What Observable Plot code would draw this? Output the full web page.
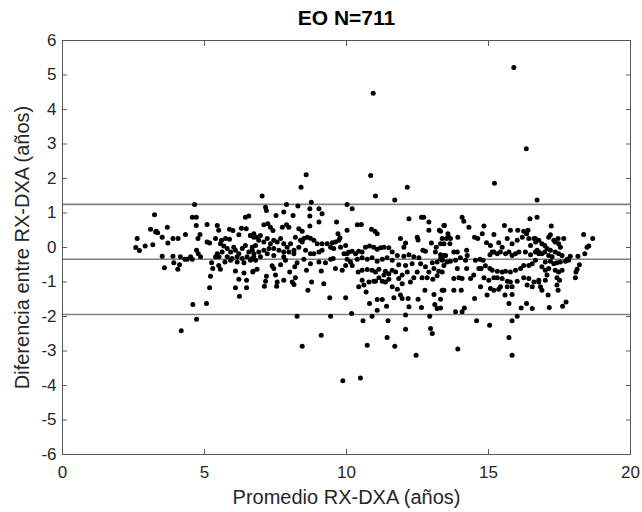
<!DOCTYPE html>
<html><head><meta charset="utf-8">
<script src="https://cdn.jsdelivr.net/npm/d3@7"></script>
<script src="https://cdn.jsdelivr.net/npm/@observablehq/plot@0.6"></script>
<style>body{margin:0;background:#fff}</style>
</head><body><div id="chart"></div>
<script>
const titulo = "EO N=711";
const etiquetaX = "Promedio RX-DXA (años)";
const etiquetaY = "Diferencia entre RX-DXA (años)";
const ticksX = [0, 5, 10, 15, 20];
const ticksY = [-6, -5, -4, -3, -2, -1, 0, 1, 2, 3, 4, 5, 6];
const media = -0.34;
const limSup = 1.25;
const limInf = -1.94;
// [promedio, diferencia]
const puntos = [
[3.24,0.95],[3.10,0.53],[3.28,0.45],[2.63,0.26],[2.58,0.00],[2.71,-0.09],[2.91,0.04],[3.18,0.08],
[4.65,1.25],[4.57,0.88],[4.71,0.88],[4.71,0.64],[5.09,0.67],[3.69,0.59],[3.30,0.47],[3.35,0.43],[3.51,0.30],[3.89,0.26],[4.07,0.26],[3.71,0.13],[4.33,0.38],[4.84,0.38],[4.77,0.26],[5.09,0.16],[5.18,0.13],[5.45,0.64],[5.50,0.50],
[5.39,0.26],[5.60,0.21],[5.74,0.26],[5.88,0.53],[6.00,0.49],[5.88,0.24],[6.21,0.37],[6.30,0.56],[6.44,0.88],[6.56,0.91],[6.47,0.54],[6.62,0.35],[6.74,0.30],
[5.56,0.11],[5.68,0.04],[5.80,-0.03],[5.92,-0.13],[6.03,0.01],[6.09,-0.08],[6.21,-0.18],[6.33,-0.03],[6.44,0.06],[6.56,-0.13],[6.68,0.01],[6.74,-0.18],[5.62,-0.13],[5.51,-0.27],[5.80,-0.27],[5.97,-0.32],[6.15,-0.27],[6.33,-0.32],[6.50,-0.27],[6.68,-0.32],[5.39,-0.27],[5.45,-0.18],
[4.78,-0.18],[4.86,-0.27],[4.72,-0.08],[4.51,-0.27],[4.39,-0.34],[4.31,-0.34],[4.57,-0.34],[3.51,-0.25],[3.89,-0.25],[4.15,-0.27],[3.92,-0.44],[4.12,-0.50],[4.06,-0.63],[3.59,-0.59],[5.25,-0.44],[5.29,-0.61],[5.50,-0.52],[5.56,-0.63],[5.72,-0.42],[5.92,-0.37],[6.15,-0.42],[6.39,-0.44],[6.09,-0.68],[6.39,-0.74],[6.70,-0.71],[5.21,-0.83],[6.21,-0.92],[6.48,-0.95],[5.18,-1.17],[6.09,-1.17],[6.48,-1.17],[6.23,-1.41],[4.59,-1.65],[5.07,-1.62],[4.72,-2.08],[4.18,-2.41],
[8.58,2.11],[8.40,1.75],[7.03,1.49],[7.15,1.17],[7.18,1.07],[7.89,1.25],[8.29,1.20],[8.76,1.31],[8.71,1.12],[8.71,0.91],[9.03,1.12],[9.14,0.98],[7.52,0.93],[7.79,1.03],[8.12,0.93],[9.03,0.74],[9.65,0.74],[8.71,0.62],[10.02,1.25],
[7.09,0.66],[7.23,0.69],[7.32,0.59],[7.41,0.49],[7.74,0.59],[7.89,0.66],[7.97,0.59],[8.32,0.54],[8.44,0.47],[9.70,0.40],[9.77,0.28],[10.02,0.50],
[6.62,0.35],[6.74,0.40],[6.85,0.30],[6.91,0.21],[6.97,0.35],[7.09,0.16],[7.21,0.26],[7.32,0.11],[7.44,0.21],[7.56,0.16],[7.68,0.26],[7.79,0.11],[7.91,0.01],[8.03,0.11],[6.80,0.06],[6.68,-0.08],[6.91,-0.13],[7.09,-0.08],[7.27,-0.03],[7.44,-0.03],[7.62,-0.08],[7.79,-0.13],[7.97,-0.13],[8.15,-0.08],[6.74,-0.27],[6.97,-0.27],[7.21,-0.18],[7.44,-0.23],[6.62,-0.37],[6.80,-0.37],
[8.20,0.30],[8.38,0.21],[8.50,0.26],[8.62,0.30],[8.73,0.27],[8.85,0.21],[8.97,0.11],[9.14,0.11],[9.32,0.11],[9.50,0.14],[9.61,0.16],[9.73,0.21],[8.15,-0.18],[8.32,0.01],[8.44,0.16],[8.56,-0.08],[8.73,-0.18],[8.85,-0.18],[9.03,-0.13],[9.14,-0.08],[9.44,0.01],[9.55,-0.03],[9.79,0.01],[9.97,0.06],[10.02,-0.18],[9.91,-0.18],[9.44,-0.34],
[7.79,-0.27],[7.85,-0.37],[8.26,-0.44],[8.50,-0.34],[8.73,-0.47],[9.03,-0.42],[9.26,-0.44],[9.53,-0.32],[9.61,-0.61],[9.85,-0.66],[6.71,-0.69],[6.85,-0.63],[7.38,-0.53],[7.44,-0.61],[7.68,-0.50],[8.00,-0.71],[8.18,-0.56],[8.59,-0.66],[9.11,-0.68],[7.18,-0.83],[7.15,-0.98],[7.50,-0.80],[7.56,-1.00],[7.54,-1.12],[7.79,-0.95],[8.09,-1.00],[8.15,-1.07],[8.20,-0.88],[7.11,-1.12],[8.77,-1.00],[9.20,-1.05],[8.64,-1.24],[9.41,-1.46],
[8.26,-1.99],[9.44,-1.99],[9.11,-2.54],[8.44,-2.86],
[10.85,2.09],[12.14,1.75],[11.02,1.49],[11.70,1.38],[10.20,1.12],[12.20,0.83],[12.64,0.88],[12.72,0.88],[12.90,0.74],[10.38,0.66],[10.52,0.67],[10.88,0.53],[11.00,0.47],[11.08,0.40],
[11.90,0.26],[12.08,0.13],[12.02,0.01],[12.49,0.30],[12.52,0.22],[12.90,0.50],[13.27,0.50],[13.43,0.64],[12.99,0.13],[13.16,0.01],[13.31,0.11],[13.37,0.26],[12.69,-0.08],[12.78,-0.11],
[10.08,-0.13],[10.20,-0.11],[10.32,-0.18],[10.43,-0.11],[10.55,-0.13],[10.67,0.01],[10.81,0.04],[10.96,0.01],[11.08,-0.05],[11.20,-0.01],[11.32,0.01],[11.49,-0.01],[11.61,-0.13],[10.02,-0.34],[10.14,-0.42],[10.38,-0.34],[10.55,-0.30],[10.73,-0.34],[10.90,-0.30],[11.08,-0.40],[11.26,-0.34],[11.43,-0.30],[11.61,-0.37],[11.79,-0.23],[12.02,-0.25],[12.20,-0.21],[12.37,-0.27],[12.55,-0.30],
[13.13,-0.13],[13.31,-0.32],[13.43,-0.23],[13.02,-0.44],[13.19,-0.42],[13.37,-0.37],[13.08,-0.61],[13.25,-0.69],[12.90,-0.71],[13.19,-0.82],[13.37,-0.71],[13.04,-0.92],
[9.97,-0.52],[10.20,-0.52],[10.41,-0.71],[10.55,-0.66],[10.73,-0.64],[10.90,-0.66],[11.02,-0.71],[11.14,-0.63],[11.37,-0.69],[11.61,-0.66],[11.84,-0.50],[12.08,-0.52],[12.31,-0.47],[12.61,-0.47],[12.78,-0.56],[12.49,-0.71],[12.66,-0.88],[12.37,-0.88],[12.14,-0.71],[11.96,-0.80],[11.73,-0.71],[11.49,-0.76],[11.32,-0.80],[11.14,-0.88],[10.96,-0.98],[10.79,-1.00],[10.55,-0.95],[10.43,-1.14],[10.61,-1.09],[10.69,-1.29],[11.02,-0.98],[11.26,-0.98],[11.37,-1.00],[11.49,-0.92],[11.84,-0.90],[11.61,-1.14],[11.79,-1.21],[11.96,-1.05],[12.25,-1.00],[12.84,-0.88],[12.76,-1.24],[13.37,-1.24],[13.08,-1.36],
[9.97,-1.46],[11.08,-1.51],[11.26,-1.51],[11.90,-1.38],[11.96,-1.48],[12.17,-1.48],[11.67,-1.46],[12.52,-1.50],[10.81,-1.62],[11.41,-1.70],[12.20,-1.72],[12.64,-1.74],[13.11,-1.65],[13.19,-1.77],[10.18,-1.91],[10.58,-2.12],[10.90,-1.99],[11.08,-1.82],[12.08,-1.96],[11.46,-2.12],[12.93,-1.99],[12.08,-2.37],[12.96,-2.35],[13.02,-2.49],[11.43,-2.61],[10.73,-2.83],[11.70,-2.86],[12.45,-3.12],
[15.21,1.86],[16.71,1.38],[14.07,0.88],[14.13,0.76],[14.31,0.59],[13.45,0.64],[14.84,0.62],[15.56,0.64],[15.77,0.50],[16.03,0.50],[16.24,0.47],[16.34,0.40],[16.39,0.50],[16.46,0.83],[16.71,0.88],
[13.31,0.47],[13.57,0.40],[13.60,0.30],[13.52,0.26],[13.66,0.26],[13.43,0.11],[13.92,0.30],[13.64,0.11],[13.31,-0.21],[13.49,-0.23],[13.37,-0.34],[13.54,-0.42],[13.43,-0.52],[13.66,-0.40],
[14.51,0.30],[14.62,0.26],[14.78,0.40],[14.93,0.14],[15.07,0.06],[15.19,0.38],[15.36,0.14],[15.48,0.01],
[15.66,0.26],[15.83,0.11],[16.01,0.21],[16.19,0.30],[16.42,0.26],[16.60,0.26],[16.66,0.16],[16.48,0.06],[16.71,-0.08],[16.77,-0.18],
[13.78,-0.13],[13.90,-0.13],[14.23,-0.08],[14.25,-0.23],[13.84,-0.37],[14.01,-0.30],[14.19,-0.37],[13.90,-0.61],[14.23,-0.61],
[14.54,-0.37],[14.70,-0.34],[14.81,-0.37],[15.05,-0.21],[15.13,-0.13],[15.19,-0.13],[15.31,-0.18],[15.42,-0.13],[15.60,-0.18],[15.72,-0.13],[15.83,-0.23],[15.95,-0.18],[16.07,-0.13],[16.30,-0.13],[16.48,-0.21],
[14.74,-0.61],[14.89,-0.53],[15.05,-0.61],[15.13,-0.66],[15.31,-0.69],[15.48,-0.71],[15.60,-0.69],[15.77,-0.71],[15.95,-0.66],[16.13,-0.61],[16.24,-0.52],[16.42,-0.52],[16.54,-0.47],
[13.78,-0.90],[13.96,-0.88],[14.07,-0.90],[14.37,-0.90],[14.48,-0.80],[14.66,-0.61],[14.84,-0.88],[15.01,-0.95],[15.19,-0.88],[15.31,-0.88],[15.48,-0.90],[15.66,-0.98],[15.77,-1.00],[16.01,-0.98],[16.24,-0.88],[16.42,-0.90],[16.60,-1.00],[16.77,-0.95],[16.36,-1.09],[16.54,-1.14],
[13.43,-1.24],[13.78,-1.24],[14.04,-1.24],[14.72,-1.14],[15.07,-1.19],[15.19,-1.24],[15.36,-1.21],[15.42,-1.14],[15.66,-1.14],[15.83,-1.14],
[14.51,-1.48],[14.95,-1.38],[15.58,-1.38],[15.83,-1.36],[13.31,-1.50],[15.72,-1.62],[16.15,-1.75],[16.34,-1.62],[16.54,-1.77],[13.31,-1.75],[13.84,-1.86],[14.07,-1.86],[14.15,-1.75],[16.01,-1.99],[15.83,-2.12],[14.58,-2.12],[15.04,-2.25],[15.72,-2.61],[13.92,-2.94],[15.83,-3.12],
[17.21,0.62],[17.18,0.37],[17.12,0.30],
[16.65,0.26],[16.77,0.21],[16.88,0.11],[16.98,0.06],[17.06,-0.03],[17.18,-0.08],[17.30,0.21],[17.35,0.16],[17.45,0.26],[17.47,0.11],[17.53,0.01],[17.65,0.26],
[16.65,-0.13],[16.77,-0.13],[16.88,-0.18],[16.98,-0.13],[17.12,-0.23],[17.24,-0.27],[17.35,-0.13],[17.47,-0.18],[17.59,-0.23],[17.88,-0.25],[17.77,-0.34],[18.15,-0.25],[18.39,-0.18],[18.47,0.01],[18.53,0.04],[18.35,0.38],[18.67,0.26],
[16.65,-0.37],[17.00,-0.42],[17.18,-0.40],[17.30,-0.47],[17.41,-0.44],[17.53,-0.42],[17.71,-0.40],[17.82,-0.37],[18.20,-0.50],[18.12,-0.63],[18.08,-0.71],[18.06,-0.88],
[16.88,-0.56],[17.00,-0.66],[17.12,-0.61],[17.35,-0.66],[17.47,-0.71],[17.59,-0.66],[17.06,-0.80],[17.00,-0.95],[17.41,-0.88],[17.50,-0.95],[16.77,-1.00],[16.83,-1.14],[16.88,-1.24],[17.41,-1.09],[17.45,-1.24],[17.10,-1.38],
[17.14,-1.74],[17.61,-1.70],[17.73,-1.58],
[15.89,5.22],[10.94,4.47],[16.33,2.86],[9.87,-3.86],[10.49,-3.78]
];

const fuente = "'Liberation Sans', Arial, Helvetica, sans-serif";
const colorEje = "#262626";
const fmt = d => String(d);
const chart = Plot.plot({
  width: 642,
  height: 512,
  marginTop: 40,
  marginRight: 12,
  marginBottom: 58,
  marginLeft: 62,
  x: {domain: [0, 20]},
  y: {domain: [-6, 6]},
  style: {fontFamily: fuente, fontSize: "15px", color: colorEje, background: "white"},
  marks: [
    Plot.ruleY([limSup, media, limInf], {stroke: "#7f7f7f", strokeWidth: 1.6}),
    Plot.dot(puntos, {x: d => d[0], y: d => d[1], r: 2.5, fill: "black", stroke: "none"}),
    Plot.frame({stroke: "#5a5a5a", strokeWidth: 1}),
    // tick labels
    Plot.axisX({ticks: ticksX, anchor: "bottom", tickSize: 0, tickPadding: 11, tickFormat: fmt, label: null, fontSize: 17, fill: colorEje}),
    Plot.axisY({ticks: ticksY, anchor: "left", tickSize: 0, tickPadding: 6, tickFormat: fmt, label: null, fontSize: 17, fill: colorEje}),
    // inward ticks on all sides
    Plot.axisX({ticks: ticksX, anchor: "bottom", tickSize: 5, dy: -5, tickFormat: () => "", label: null, stroke: "#5a5a5a"}),
    Plot.axisX({ticks: ticksX, anchor: "top", tickSize: 5, dy: 5, tickFormat: () => "", label: null, stroke: "#5a5a5a"}),
    Plot.axisY({ticks: ticksY, anchor: "left", tickSize: 5, dx: 5, tickFormat: () => "", label: null, stroke: "#5a5a5a"}),
    Plot.axisY({ticks: ticksY, anchor: "right", tickSize: 5, dx: -5, tickFormat: () => "", label: null, stroke: "#5a5a5a"}),
    // texts
    Plot.text([titulo], {text: d => d, frameAnchor: "top", lineAnchor: "middle", dy: -22, fontSize: 21, fontWeight: "bold", fill: "black"}),
    Plot.text([etiquetaX], {text: d => d, frameAnchor: "bottom", lineAnchor: "middle", dy: 43, fontSize: 20, fill: colorEje}),
    Plot.text([etiquetaY], {text: d => d, frameAnchor: "left", textAnchor: "middle", lineAnchor: "middle", dx: -40, rotate: -90, fontSize: 20, fill: colorEje})
  ]
});
document.getElementById("chart").appendChild(chart);
</script>
</body></html>
